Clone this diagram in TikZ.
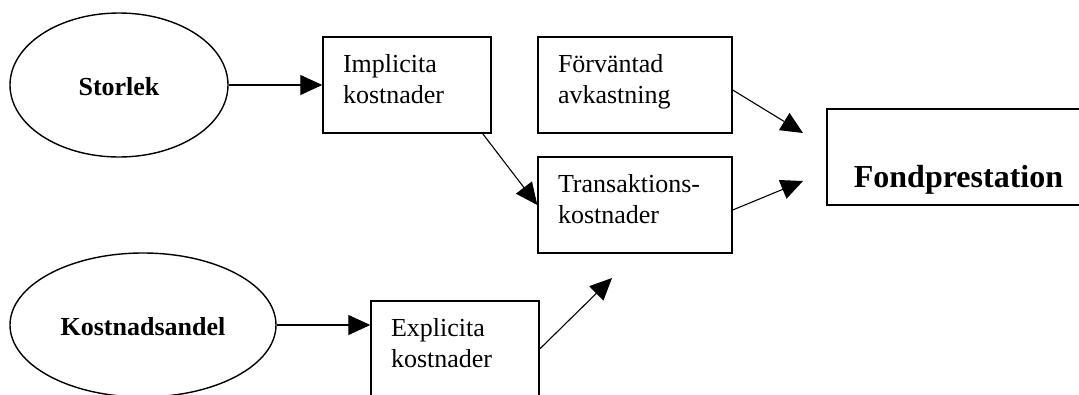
\documentclass[tikz,border=0pt]{standalone}
\usepackage{fontspec}
\setmainfont{Liberation Serif}
\usetikzlibrary{arrows.meta,shapes.geometric}

\begin{document}
\begin{tikzpicture}[x=1pt, y=-1pt,
    box/.style={draw, line width=1.4pt, rectangle, inner xsep=20pt, inner ysep=0pt,
        text height=35pt, text depth=61pt, align=left,
        font=\fontsize{26}{31}\selectfont},
    oval/.style={draw, line width=1.4pt, ellipse, inner sep=0pt, minimum height=144pt,
        text height=21pt, text depth=0pt,
        font=\fontsize{26}{31}\selectfont\bfseries},
    flow/.style={-{Triangle[length=22pt, width=20pt]}, line width=1.1pt}]
    \clip (0,0) rectangle (1079,394);

    % Drivers
    \node[oval, minimum width=218pt] (stor) at (119,85) {Storlek};
    \node[oval, minimum width=266pt] (kost) at (143,325) {Kostnadsandel};

    % Cost boxes
    \node[box, text width=128pt] (impl) at (407,85) {Implicita\\kostnader};
    \node[box, text width=128pt] (expl) at (455,349) {Explicita\\kostnader};
    \node[box, text width=154pt] (fv) at (635,85) {Förväntad\\avkastning};
    \node[box, text width=154pt] (trans) at (635,205) {Transaktions-\\kostnader};

    % Outcome
    \node[draw, line width=1.4pt, inner ysep=0pt, text height=78pt, text depth=18pt,
        minimum width=263pt, font=\fontsize{32}{38}\selectfont\bfseries]
        (fond) at (958.5,157) {Fondprestation};

    % Free arrow ends
    \coordinate (fondin1) at (803,133);
    \coordinate (fondin2) at (803,181);
    \coordinate (transin) at (612,278);

    % Connectors
    \draw[flow] (stor) -- (impl);
    \draw[flow] (kost.east) -- (kost.east -| expl.west);
    \draw[flow] ([xshift=-9pt]impl.south east) -- (trans.west);
    \draw[flow] ([yshift=-5pt]fv.east) -- (fondin1);
    \draw[flow] ([yshift=-5pt]trans.east) -- (fondin2);
    \draw[flow] (expl.east) -- (transin);
\end{tikzpicture}
\end{document}
